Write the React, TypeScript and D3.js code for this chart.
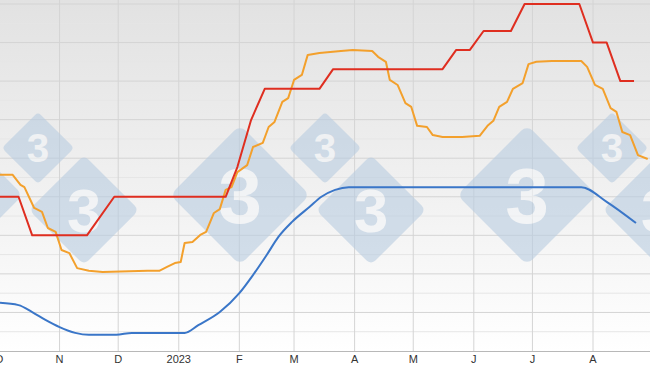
import React from "react";
import * as d3 from "d3";

const W = 650;
const H = 366;

const monthTicks = ["2022-10-01","2022-11-01","2022-12-01","2023-01-01","2023-02-01","2023-03-01","2023-04-01","2023-05-01","2023-06-01","2023-07-01","2023-08-01"];
const monthLabels = ["O","N","D","2023","F","M","A","M","J","J","A"];
const yTicks = [1.0,1.1,1.2,1.3,1.4,1.5,1.6,1.7,1.8,1.9];

const redDates = ["2022-10-01","2022-10-11","2022-10-18","2022-11-15","2022-11-29","2023-01-25","2023-01-31","2023-02-07","2023-02-14","2023-03-14","2023-03-21","2023-05-16","2023-05-23","2023-05-30","2023-06-06","2023-06-20","2023-06-27","2023-07-25","2023-08-01","2023-08-08","2023-08-15","2023-08-22"];
const redValues = [1.40,1.40,1.30,1.30,1.40,1.40,1.477,1.599,1.68,1.68,1.731,1.731,1.781,1.781,1.83,1.83,1.90,1.90,1.80,1.80,1.70,1.70];

const orangeDates = ["2022-10-01","2022-10-08","2022-10-12","2022-10-14","2022-10-19","2022-10-23","2022-10-26","2022-10-30","2022-11-02","2022-11-06","2022-11-10","2022-11-16","2022-11-23","2022-12-16","2022-12-22","2022-12-26","2022-12-30","2023-01-02","2023-01-04","2023-01-08","2023-01-12","2023-01-15","2023-01-19","2023-01-22","2023-01-25","2023-01-28","2023-01-31","2023-02-05","2023-02-08","2023-02-13","2023-02-16","2023-02-19","2023-02-23","2023-02-26","2023-03-01","2023-03-05","2023-03-08","2023-03-14","2023-03-25","2023-03-31","2023-04-10","2023-04-13","2023-04-17","2023-04-19","2023-04-23","2023-04-27","2023-04-30","2023-05-03","2023-05-08","2023-05-11","2023-05-16","2023-05-26","2023-06-04","2023-06-08","2023-06-11","2023-06-14","2023-06-18","2023-06-21","2023-06-26","2023-06-29","2023-07-03","2023-07-11","2023-07-26","2023-07-29","2023-08-02","2023-08-06","2023-08-10","2023-08-13","2023-08-16","2023-08-20","2023-08-24","2023-08-29"];
const orangeValues = [1.457,1.457,1.431,1.425,1.371,1.361,1.319,1.309,1.262,1.254,1.215,1.208,1.205,1.208,1.208,1.218,1.228,1.231,1.280,1.283,1.301,1.309,1.358,1.368,1.418,1.425,1.464,1.482,1.529,1.540,1.581,1.594,1.646,1.656,1.703,1.716,1.768,1.773,1.778,1.781,1.778,1.763,1.750,1.703,1.690,1.643,1.633,1.584,1.581,1.560,1.555,1.555,1.558,1.584,1.597,1.633,1.646,1.680,1.695,1.744,1.750,1.752,1.752,1.737,1.690,1.680,1.630,1.620,1.568,1.560,1.508,1.498];

const blueDates = ["2022-10-01","2022-10-11","2022-10-18","2022-10-25","2022-11-01","2022-11-09","2022-11-16","2022-11-30","2022-12-08","2023-01-04","2023-01-11","2023-01-22","2023-02-01","2023-02-08","2023-02-15","2023-02-21","2023-02-28","2023-03-09","2023-03-15","2023-03-22","2023-03-29","2023-07-26","2023-08-08","2023-08-23"];
const blueValues = [1.125,1.119,1.101,1.080,1.062,1.047,1.042,1.042,1.047,1.047,1.067,1.101,1.150,1.197,1.249,1.296,1.335,1.374,1.400,1.418,1.425,1.425,1.387,1.332];

// watermark diamonds: [cx, cy, half-diagonal]
const markCx = [-47, 38, 84, 240, 325, 371, 527, 612, 658];
const markCy = [195, 148, 210, 195, 148, 210, 195, 148, 210];
const markR = [70, 36, 55, 70, 36, 55, 70, 36, 55];

const parse = d3.timeParse("%Y-%m-%d");

export default function App() {
  const x = d3.scaleTime().domain([parse("2022-10-01")!, parse("2023-08-01")!]).range([-1, 593]);
  const y = d3.scaleLinear().domain([1.0, 1.9]).range([351, 4]);
  const mk = (ds: string[], vs: number[]) => ds.map((d, i) => ({ d: parse(d)!, v: vs[i] }));
  const lin = d3.line<{ d: Date; v: number }>().x(p => x(p.d)).y(p => y(p.v));
  const smooth = d3.line<{ d: Date; v: number }>().x(p => x(p.d)).y(p => y(p.v)).curve(d3.curveMonotoneX);
  const minor = yTicks.slice(0, -1).map(t => t + 0.05);

  return (
    <svg width={W} height={H} style={{ position: "absolute", left: 0, top: 0 }} fontFamily="'Liberation Sans', Arial, sans-serif">
      <defs>
        <linearGradient id="bg" x1="0" y1="0" x2="0" y2="1">
          <stop offset="0" stopColor="#e2e2e2" />
          <stop offset="0.55" stopColor="#f1f1f1" />
          <stop offset="1" stopColor="#ffffff" />
        </linearGradient>
      </defs>
      <rect x={0} y={0} width={W} height={H} fill="#ffffff" />
      <rect x={0} y={0} width={W} height={352} fill="url(#bg)" />
      {minor.map((t, i) => (
        <line key={"mn" + i} x1={0} x2={W} y1={y(t)} y2={y(t)} stroke="#e6e6e6" strokeWidth={1} />
      ))}
      {yTicks.slice(1).map((t, i) => (
        <line key={"yg" + i} x1={0} x2={W} y1={y(t)} y2={y(t)} stroke="#d4d4d4" strokeWidth={1} />
      ))}
      {monthTicks.map((m, i) => (
        <line key={"xg" + i} x1={x(parse(m)!)} x2={x(parse(m)!)} y1={0} y2={351} stroke="#d4d4d4" strokeWidth={1} />
      ))}
      <g opacity={0.6}>
        {markCx.map((cx, i) => {
          const r = markR[i];
          const s = r * Math.SQRT2;
          return (
            <g key={"wm" + i} transform={`translate(${cx},${markCy[i]})`}>
              <rect x={-s / 2} y={-s / 2} width={s} height={s} rx={s * 0.08} fill="#b9cde1" transform="rotate(45)" />
              <text x={0} y={r * 0.4} textAnchor="middle" fontSize={r * 1.12} fontWeight="bold" fill="#f2f5f8">3</text>
            </g>
          );
        })}
      </g>
      <line x1={0} x2={W} y1={351.5} y2={351.5} stroke="#b8b8b8" strokeWidth={1} />
      <path d={smooth(mk(blueDates, blueValues))!} fill="none" stroke="#3a76c8" strokeWidth={2} />
      <path d={lin(mk(orangeDates, orangeValues))!} fill="none" stroke="#f3a02c" strokeWidth={2} strokeLinejoin="round" />
      <path d={lin(mk(redDates, redValues))!} fill="none" stroke="#df2e20" strokeWidth={2} strokeLinejoin="round" />
      {monthTicks.map((m, i) => (
        <text key={"xl" + i} x={x(parse(m)!)} y={363} textAnchor="middle" fontSize={11} fill="#333">{monthLabels[i]}</text>
      ))}
    </svg>
  );
}
